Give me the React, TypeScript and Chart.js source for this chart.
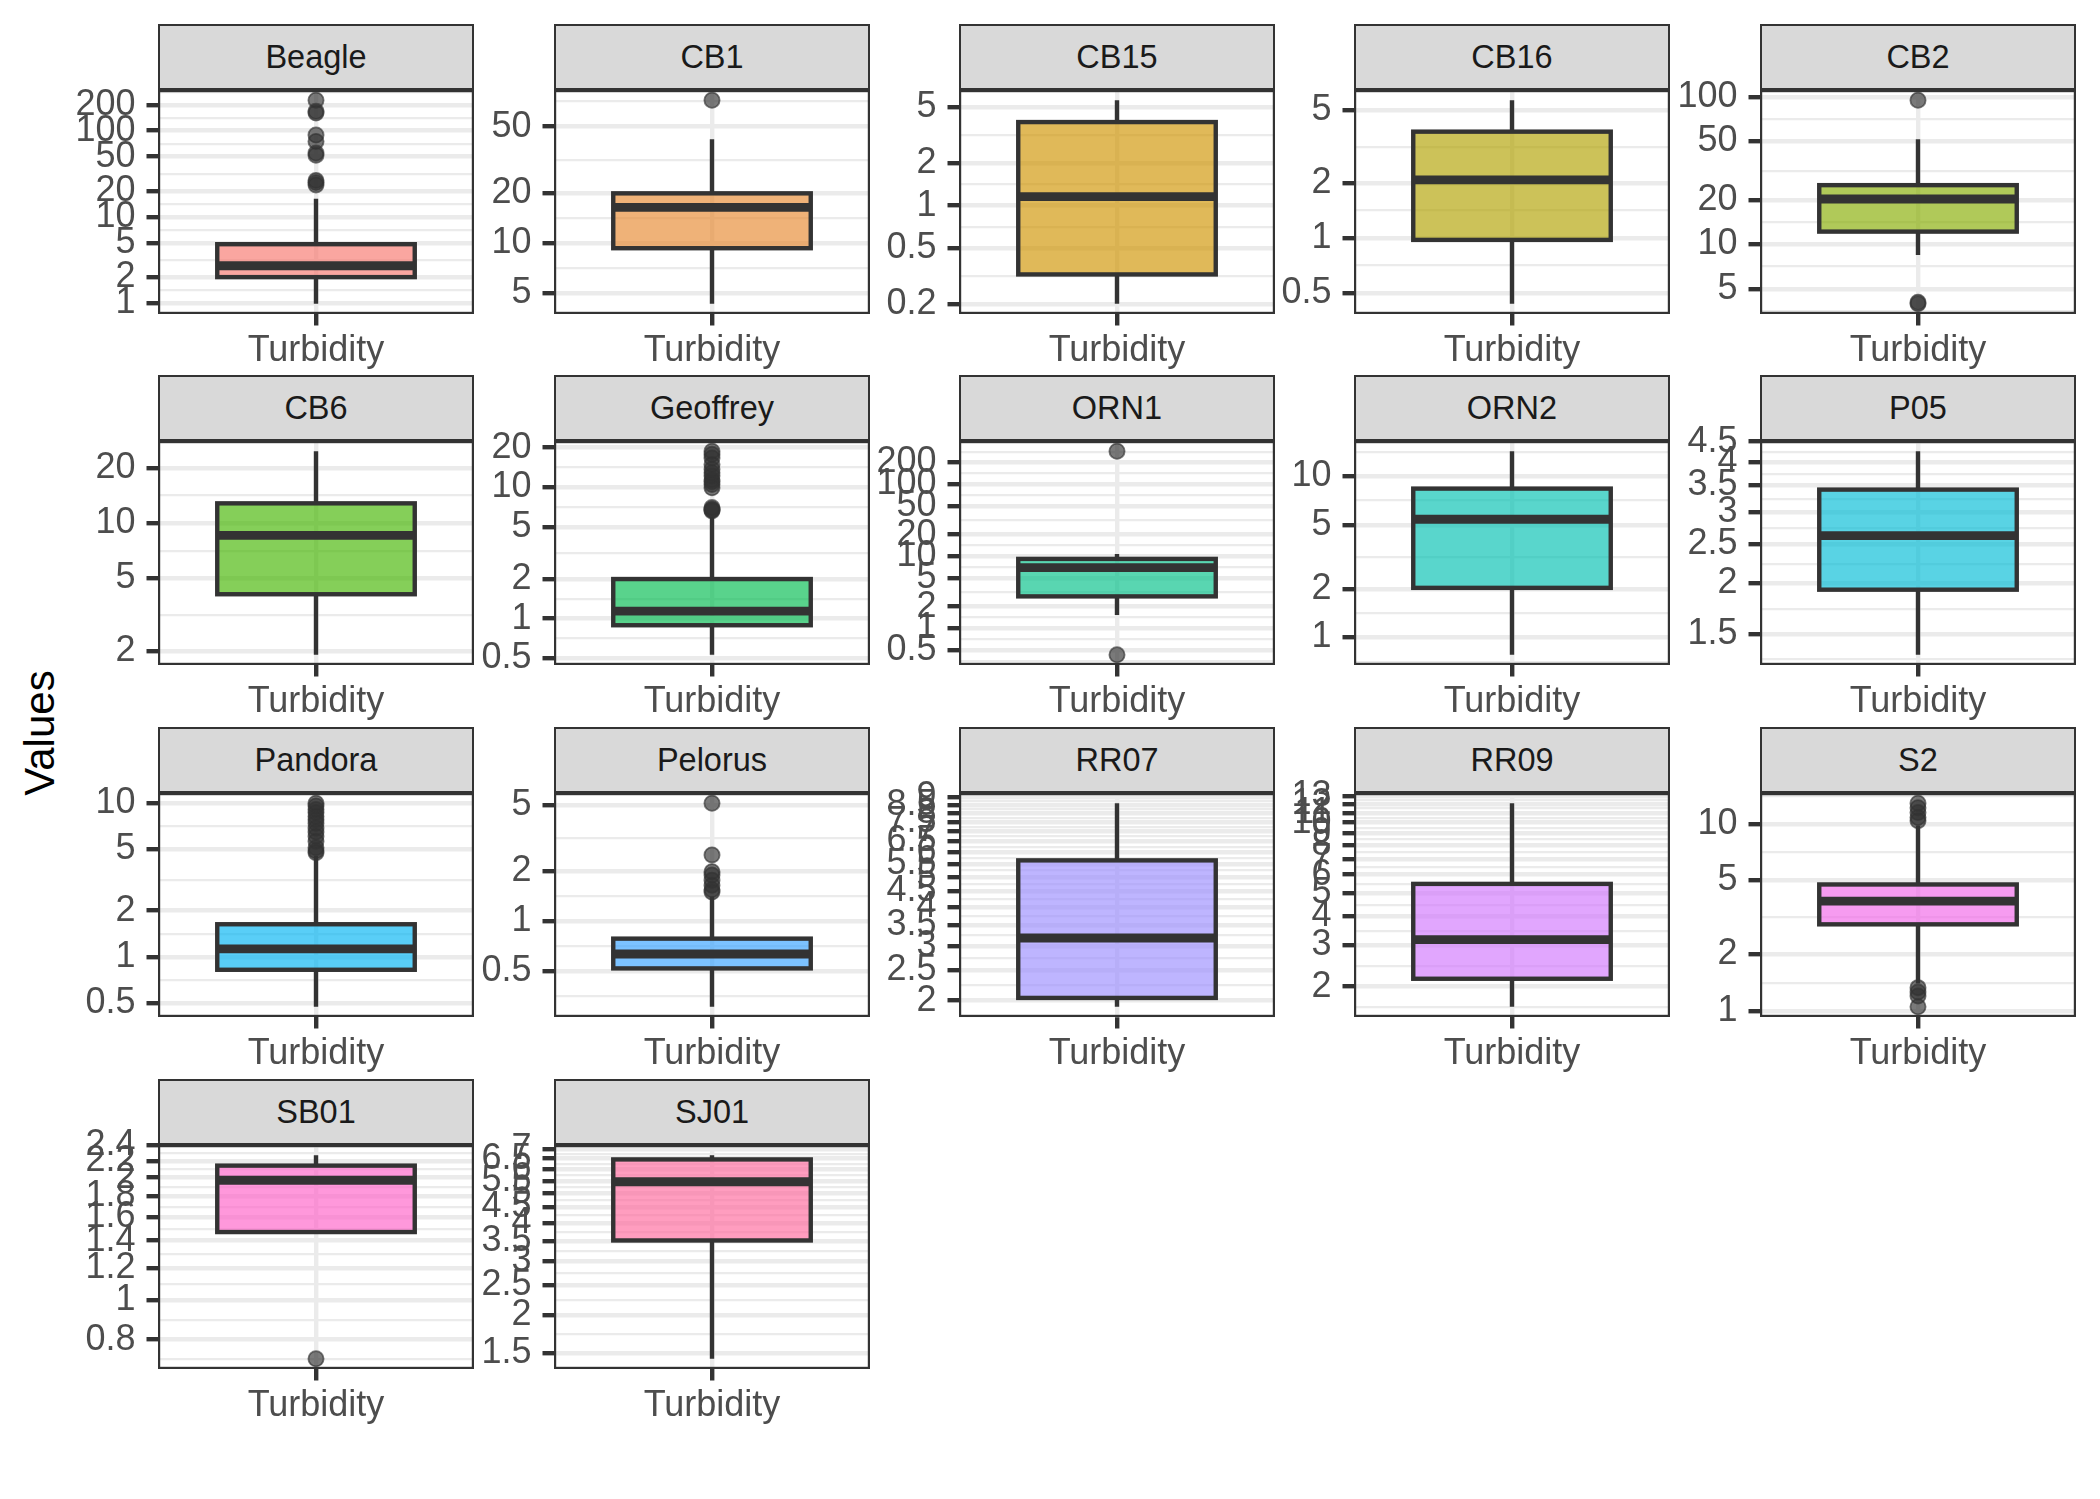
import React, { useEffect, useRef } from "react";
import { Chart, registerables } from "chart.js";

Chart.register(...registerables);

// ---------------- data ----------------
const sites = ["Beagle", "CB1", "CB15", "CB16", "CB2", "CB6", "Geoffrey", "ORN1", "ORN2", "P05", "Pandora", "Pelorus", "RR07", "RR09", "S2", "SB01", "SJ01"];
const categoryLabel = "Turbidity";
const yTitle = "Values";

const whiskerLow = [0.98, 4.33, 0.202, 0.436, 8.47, 1.92, 0.53, 1.53, 0.78, 1.33, 0.473, 0.306, 1.91, 1.64, 1.4, 1.46, 1.44];
const lowerQuartile = [2.0, 9.33, 0.326, 0.976, 12.2, 4.1, 0.89, 2.78, 2.03, 1.93, 0.824, 0.521, 2.04, 2.16, 2.9, 1.47, 3.51];
const medianValue = [2.71, 16.4, 1.157, 2.08, 20.3, 8.57, 1.14, 6.96, 5.41, 2.63, 1.127, 0.636, 3.18, 3.17, 3.86, 1.97, 5.46];
const upperQuartile = [4.82, 19.9, 3.9, 3.82, 25.2, 12.8, 2.0, 9.2, 8.38, 3.42, 1.63, 0.787, 5.65, 5.48, 4.74, 2.14, 6.46];
const whiskerHigh = [16.2, 42, 5.57, 5.68, 51.6, 24.6, 5.9, 10.8, 14.3, 4.26, 4.53, 1.41, 8.63, 12.1, 9.8, 2.27, 6.67];
const outlierValues: number[][] = [
  [23.5, 25, 26.5, 52, 55, 75, 89, 160, 168, 226],
  [72],
  [],
  [],
  [3.95, 4.05, 95],
  [],
  [6.6, 6.7, 6.8, 7.0, 9.9, 10.5, 11.0, 11.4, 12.2, 12.9, 13.7, 14.9, 16.7, 17.8, 18.8],
  [0.43, 287],
  [],
  [],
  [4.76, 4.9, 5.13, 5.66, 6.1, 6.5, 6.9, 7.4, 7.8, 8.2, 8.7, 9.1, 9.6, 10.0],
  [1.5, 1.55, 1.65, 1.77, 1.9, 1.99, 2.51, 5.14],
  [],
  [],
  [1.05, 1.2, 1.26, 1.33, 10.4, 10.8, 11.5, 12.2, 12.9],
  [0.718],
  [],
];
const tickLabels: string[][] = [
  ["1", "2", "5", "10", "20", "50", "100", "200"],
  ["5", "10", "20", "50"],
  ["0.2", "0.5", "1", "2", "5"],
  ["0.5", "1", "2", "5"],
  ["5", "10", "20", "50", "100"],
  ["2", "5", "10", "20"],
  ["0.5", "1", "2", "5", "10", "20"],
  ["0.5", "1", "2", "5", "10", "20", "50", "100", "200"],
  ["1", "2", "5", "10"],
  ["1.5", "2", "2.5", "3", "3.5", "4", "4.5"],
  ["0.5", "1", "2", "5", "10"],
  ["0.5", "1", "2", "5"],
  ["2", "2.5", "3", "3.5", "4", "4.5", "5", "5.5", "6", "6.5", "7", "7.5", "8", "8.5", "9"],
  ["2", "3", "4", "5", "6", "7", "8", "9", "10", "11", "12", "13"],
  ["1", "2", "5", "10"],
  ["0.8", "1", "1.2", "1.4", "1.6", "1.8", "2", "2.2", "2.4"],
  ["1.5", "2", "2.5", "3", "3.5", "4", "4.5", "5", "5.5", "6", "6.5", "7"],
];
const fillColors = ["#F8766D", "#E7882F", "#D09400", "#B1A100", "#86AC00", "#43B500", "#00BC4E", "#00C087", "#00C0B0", "#00BCD6", "#00B3F2", "#35A2FF", "#9B8EFF", "#D177FD", "#F166E8", "#FF61C8", "#FF699C"];

// ---------------- layout / style ----------------
const FILL_ALPHA = 0.65;
const FONT = "'Liberation Sans', Arial, Helvetica, sans-serif";
const COL_X = [158, 554, 959, 1354, 1760];
const ROW_Y = [90, 441, 793, 1145];
const PW = 316;
const PH = 224;
const STRIP_H = 66;
const AXW = 100;
const PADT = 30;
const PADR = 3;
const XAXH = 70;
const DARK = "#333333";
const GRID = "#EBEBEB";

function rgba(hex: string, a: number) {
  const n = parseInt(hex.slice(1), 16);
  return `rgba(${(n >> 16) & 255},${(n >> 8) & 255},${n & 255},${a})`;
}

function Panel({ index }: { index: number }) {
  const ref = useRef<HTMLCanvasElement | null>(null);
  const col = index % 5;
  const row = Math.floor(index / 5);
  const px = COL_X[col];
  const py = ROW_Y[row];

  useEffect(() => {
    const canvas = ref.current;
    if (!canvas) return;
    const outs = outlierValues[index];
    const lo = Math.min(whiskerLow[index], ...outs);
    const hi = Math.max(whiskerHigh[index], ...outs);
    const lLo = Math.log10(lo);
    const lHi = Math.log10(hi);
    const span = lHi - lLo;
    const limLo = lLo - 0.05 * span;
    const limHi = lHi + 0.05 * span;
    const eps = 1e-9;

    const labs = tickLabels[index];
    const majorsIdx = labs
      .map((_, k) => k)
      .filter((k) => {
        const l = Math.log10(Number(labs[k]));
        return l >= limLo - eps && l <= limHi + eps;
      });
    const majors = majorsIdx.map((k) => Number(labs[k]));
    const lb = majors.map((v) => Math.log10(v));
    const minors: number[] = [];
    if (lb.length >= 2) {
      const bd = lb[1] - lb[0];
      const ext = lb.slice();
      if (limLo < ext[0]) ext.unshift(ext[0] - bd);
      if (limHi > ext[ext.length - 1]) ext.push(ext[ext.length - 1] + bd);
      for (let k = 0; k < ext.length - 1; k++) {
        const m = (ext[k] + ext[k + 1]) / 2;
        if (m > limLo && m < limHi) minors.push(Math.pow(10, m));
      }
    }
    const tickDefs = [
      ...minors.map((v) => ({ value: v, isMaj: false, lab: "" })),
      ...majorsIdx.map((k) => ({ value: Number(labs[k]), isMaj: true, lab: labs[k] })),
    ].sort((a, b) => a.value - b.value);

    const boxPlugin = {
      id: "boxExtras" + index,
      afterDatasetsDraw(chart: any) {
        const meta = chart.getDatasetMeta(0);
        const el = meta.data[0];
        if (!el) return;
        const { x, width } = el.getProps(["x", "width"], true);
        const y = chart.scales.y;
        const ctx = chart.ctx;
        ctx.save();
        ctx.strokeStyle = DARK;
        ctx.lineCap = "butt";
        ctx.lineJoin = "miter";
        ctx.lineWidth = 4.4;
        const t = y.getPixelForValue(upperQuartile[index]);
        const b = y.getPixelForValue(lowerQuartile[index]);
        ctx.beginPath();
        ctx.moveTo(x, t);
        ctx.lineTo(x, y.getPixelForValue(whiskerHigh[index]));
        ctx.moveTo(x, b);
        ctx.lineTo(x, y.getPixelForValue(whiskerLow[index]));
        ctx.stroke();
        ctx.strokeRect(x - width / 2, t, width, b - t);
        const m = y.getPixelForValue(medianValue[index]);
        ctx.lineWidth = 8.8;
        ctx.beginPath();
        ctx.moveTo(x - width / 2, m);
        ctx.lineTo(x + width / 2, m);
        ctx.stroke();
        ctx.restore();
      },
      afterDraw(chart: any) {
        const ca = chart.chartArea;
        const ctx = chart.ctx;
        ctx.save();
        ctx.strokeStyle = DARK;
        ctx.lineWidth = 2.2;
        ctx.strokeRect(ca.left + 1.1, ca.top + 1.1, ca.right - ca.left - 2.2, ca.bottom - ca.top - 2.2);
        ctx.restore();
      },
    };

    const chart = new Chart(canvas, {
      type: "bar",
      data: {
        labels: [categoryLabel],
        datasets: [
          {
            type: "bar",
            data: [[lowerQuartile[index], upperQuartile[index]]] as any,
            backgroundColor: rgba(fillColors[index], FILL_ALPHA),
            borderWidth: 0,
            barPercentage: 0.625,
            categoryPercentage: 1,
            order: 1,
          } as any,
          {
            type: "line",
            data: outs.map((v) => ({ x: categoryLabel, y: v })) as any,
            showLine: false,
            pointRadius: 7.6,
            pointBorderWidth: 1.8,
            pointBackgroundColor: rgba(DARK, FILL_ALPHA),
            pointBorderColor: rgba(DARK, FILL_ALPHA),
            order: 2,
            clip: false,
          } as any,
        ],
      },
      options: {
        responsive: false,
        animation: false,
        devicePixelRatio: 1,
        events: [],
        layout: { autoPadding: false, padding: { top: PADT, right: PADR, left: 0, bottom: 0 } },
        plugins: { legend: { display: false }, tooltip: { enabled: false }, title: { display: false } },
        scales: {
          x: {
            type: "category",
            offset: true,
            border: { display: false },
            grid: {
              offset: false,
              color: GRID,
              lineWidth: 4.4,
              tickColor: DARK,
              tickWidth: 4.4,
              tickLength: 11.5,
              drawTicks: true,
            },
            ticks: {
              font: { family: FONT, size: 36 },
              color: "#4D4D4D",
              padding: 4,
              autoSkip: false,
              maxRotation: 0,
            },
            afterFit: (scale: any) => {
              scale.height = XAXH;
              scale.paddingLeft = 0;
              scale.paddingRight = 0;
            },
          },
          y: {
            type: "logarithmic",
            position: "left",
            min: Math.pow(10, limLo),
            max: Math.pow(10, limHi),
            bounds: "data",
            border: { display: false },
            grid: {
              color: GRID,
              lineWidth: (ctx: any) => (ctx.tick && ctx.tick.isMaj ? 4.4 : 2.2),
              tickColor: (ctx: any) => (ctx.tick && ctx.tick.isMaj ? DARK : "rgba(0,0,0,0)"),
              tickWidth: 4.4,
              tickLength: 11.5,
              drawTicks: true,
            },
            ticks: {
              font: { family: FONT, size: 36 },
              color: "#4D4D4D",
              padding: 11,
              autoSkip: false,
              callback: (_v: any, i: number, ticks: any[]) => (ticks[i] && ticks[i].lab) || "",
            },
            afterBuildTicks: (scale: any) => {
              scale.ticks = tickDefs.map((t) => ({ ...t }));
            },
            afterFit: (scale: any) => {
              scale.width = AXW;
              scale.paddingTop = 0;
              scale.paddingBottom = 0;
            },
          } as any,
        },
      } as any,
      plugins: [boxPlugin as any],
    });
    return () => chart.destroy();
  }, [index]);

  return (
    <>
      <canvas
        ref={ref}
        width={AXW + PW + PADR}
        height={PADT + PH + XAXH}
        style={{ position: "absolute", left: px - AXW, top: py - PADT, width: AXW + PW + PADR, height: PADT + PH + XAXH }}
      />
      <div
        style={{
          position: "absolute",
          left: px,
          top: py - STRIP_H,
          width: PW,
          height: STRIP_H,
          boxSizing: "border-box",
          border: `2px solid ${DARK}`,
          background: "#D9D9D9",
          color: "#1A1A1A",
          fontFamily: FONT,
          fontSize: 32.5,
          lineHeight: `${STRIP_H - 4}px`,
          textAlign: "center",
          whiteSpace: "nowrap",
        }}
      >
        {sites[index]}
      </div>
    </>
  );
}

export default function App() {
  useEffect(() => {
    document.body.style.margin = "0";
  }, []);
  return (
    <div style={{ position: "absolute", left: 0, top: 0, width: 2100, height: 1499, background: "#ffffff", overflow: "hidden" }}>
      <div
        style={{
          position: "absolute",
          left: 39.5 - 100,
          top: 733 - 21,
          width: 200,
          height: 42,
          lineHeight: "42px",
          fontSize: 42,
          fontFamily: FONT,
          color: "#000000",
          textAlign: "center",
          transform: "rotate(-90deg)",
        }}
      >
        {yTitle}
      </div>
      {sites.map((s, i) => (
        <Panel key={s} index={i} />
      ))}
    </div>
  );
}
